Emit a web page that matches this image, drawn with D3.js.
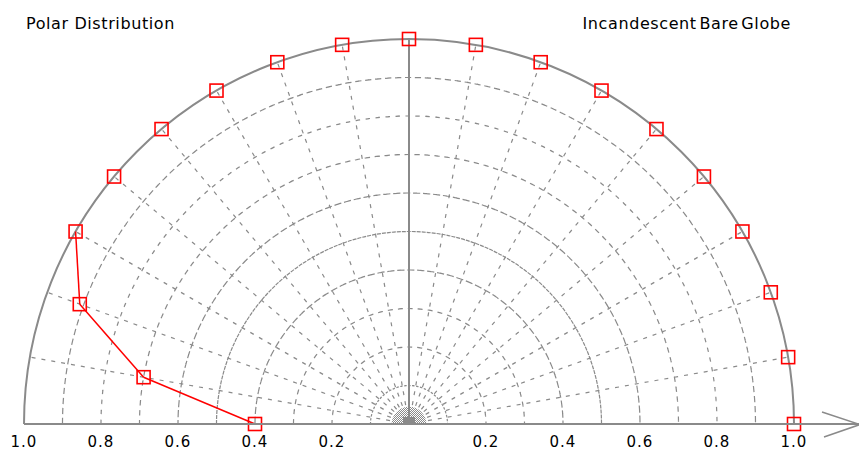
<!DOCTYPE html>
<html>
<head>
<meta charset="utf-8">
<script src="https://cdn.jsdelivr.net/npm/d3@7"></script>
<style>
  body { margin: 0; background: #fff; }
  text { font-family: "DejaVu Sans", sans-serif; fill: #000; }
</style>
</head>
<body>
<script>
// polar distribution, candela normalised to 1.0
var angles = [0, 10, 20, 30, 40, 50, 60, 70, 80, 90, 100, 110, 120, 130, 140, 150, 160, 170, 180];
var values = [1, 1, 1, 1, 1, 1, 1, 1, 1, 1, 1, 1, 1, 1, 1, 1, 0.91, 0.70, 0.40];
var rings = [0.1, 0.2, 0.3, 0.4, 0.5, 0.6, 0.7, 0.8, 0.9];
var spokes = [10, 20, 30, 40, 50, 60, 70, 80, 100, 110, 120, 130, 140, 150, 160, 170];
var tickVals = [-1, -0.8, -0.6, -0.4, -0.2, 0.2, 0.4, 0.6, 0.8, 1];

var width = 859, height = 452;
var cx = 409, cy = 424, R = 385;
var grey = "#8a8a8a";

var svg = d3.select("body").append("svg")
    .attr("width", width)
    .attr("height", height);

var r = d3.scaleLinear().domain([0, 1]).range([0, R]);
var x = d3.scaleLinear().domain([-1, 1]).range([cx - R, cx + R]);
var toRad = function(deg) { return deg * Math.PI / 180; };
var px = function(v, a) { return r(v) * Math.cos(toRad(a)); };
var py = function(v, a) { return -r(v) * Math.sin(toRad(a)); };

var g = svg.append("g").attr("transform", "translate(" + cx + "," + cy + ")");

var arc = d3.arc()
    .startAngle(-Math.PI / 2)
    .endAngle(Math.PI / 2);

// dashed rings
g.selectAll("path.ring").data(rings).enter()
  .append("path")
    .attr("class", "ring")
    .attr("d", function(d) { return arc({innerRadius: r(d), outerRadius: r(d)}); })
    .style("fill", "none")
    .style("stroke", grey)
    .style("stroke-width", 1.2)
    .style("stroke-dasharray", function(d) { return d < 0.15 ? "2,2" : "4,6"; });

// dashed spokes
g.selectAll("line.spoke").data(spokes).enter()
  .append("line")
    .attr("class", "spoke")
    .attr("x1", function(d) { return px(0.05, d); })
    .attr("y1", function(d) { return py(0.05, d); })
    .attr("x2", function(d) { return px(1, d); })
    .attr("y2", function(d) { return py(1, d); })
    .style("stroke", grey)
    .style("stroke-width", 1.2)
    .style("stroke-dasharray", "4,6");

// little hatched hub at the centre
var defs = svg.append("defs");
var pat = defs.append("pattern")
    .attr("id", "hatch")
    .attr("width", 2).attr("height", 2)
    .attr("patternUnits", "userSpaceOnUse");
pat.append("rect").attr("width", 1).attr("height", 1).style("fill", grey);
pat.append("rect").attr("x", 1).attr("y", 1).attr("width", 1).attr("height", 1).style("fill", grey);

g.append("path")
    .attr("d", arc({innerRadius: 0, outerRadius: r(0.045)}))
    .style("fill", "url(#hatch)");
g.append("rect")
    .attr("x", -6).attr("y", -7)
    .attr("width", 12).attr("height", 7)
    .style("fill", grey);

// centre line
g.append("line")
    .attr("x1", 0).attr("y1", 0)
    .attr("x2", 0).attr("y2", -r(1))
    .style("stroke", grey)
    .style("stroke-width", 2);

// outer boundary
g.append("path")
    .attr("d", arc({innerRadius: r(1), outerRadius: r(1)}))
    .style("fill", "none")
    .style("stroke", grey)
    .style("stroke-width", 2);

// data line: only the part that leaves the outer ring shows in red
var segs = d3.pairs(d3.range(values.length))
    .filter(function(p) { return values[p[0]] < 1 || values[p[1]] < 1; });

var seg = d3.line()
    .x(function(i) { return px(values[i], angles[i]); })
    .y(function(i) { return py(values[i], angles[i]); });

g.selectAll("path.seg").data(segs).enter()
  .append("path")
    .attr("class", "seg")
    .attr("d", seg)
    .style("fill", "none")
    .style("stroke", "red")
    .style("stroke-width", 1.5);

// baseline + arrow
svg.append("line")
    .attr("x1", x(-1)).attr("y1", cy)
    .attr("x2", width).attr("y2", cy)
    .style("stroke", grey)
    .style("stroke-width", 2);
svg.append("path")
    .attr("d", "M822,412L860,424.5L824,437")
    .style("fill", "none")
    .style("stroke", grey)
    .style("stroke-width", 1.5);

// markers
g.selectAll("rect.pt").data(values).enter()
  .append("rect")
    .attr("class", "pt")
    .attr("x", function(d, i) { return px(d, angles[i]) - 6.5; })
    .attr("y", function(d, i) { return py(d, angles[i]) - 6.5; })
    .attr("width", 13)
    .attr("height", 13)
    .style("fill", "none")
    .style("stroke", "red")
    .style("stroke-width", 1.6);

// tick labels
svg.selectAll("text.tick").data(tickVals).enter()
  .append("text")
    .attr("class", "tick")
    .attr("x", function(d) { return x(d); })
    .attr("y", 447)
    .attr("text-anchor", "middle")
    .style("font-size", "15px")
    .style("letter-spacing", "1px")
    .text(function(d) { return Math.abs(d).toFixed(1); });

svg.append("text")
    .attr("x", 26).attr("y", 29)
    .style("font-size", "16px")
    .style("letter-spacing", "0.6px")
    .text("Polar Distribution");

svg.append("text")
    .attr("x", 791).attr("y", 29)
    .attr("text-anchor", "end")
    .style("font-size", "16px")
    .style("letter-spacing", "0.6px")
    .style("word-spacing", "-3px")
    .text("Incandescent Bare Globe");
</script>
</body>
</html>
